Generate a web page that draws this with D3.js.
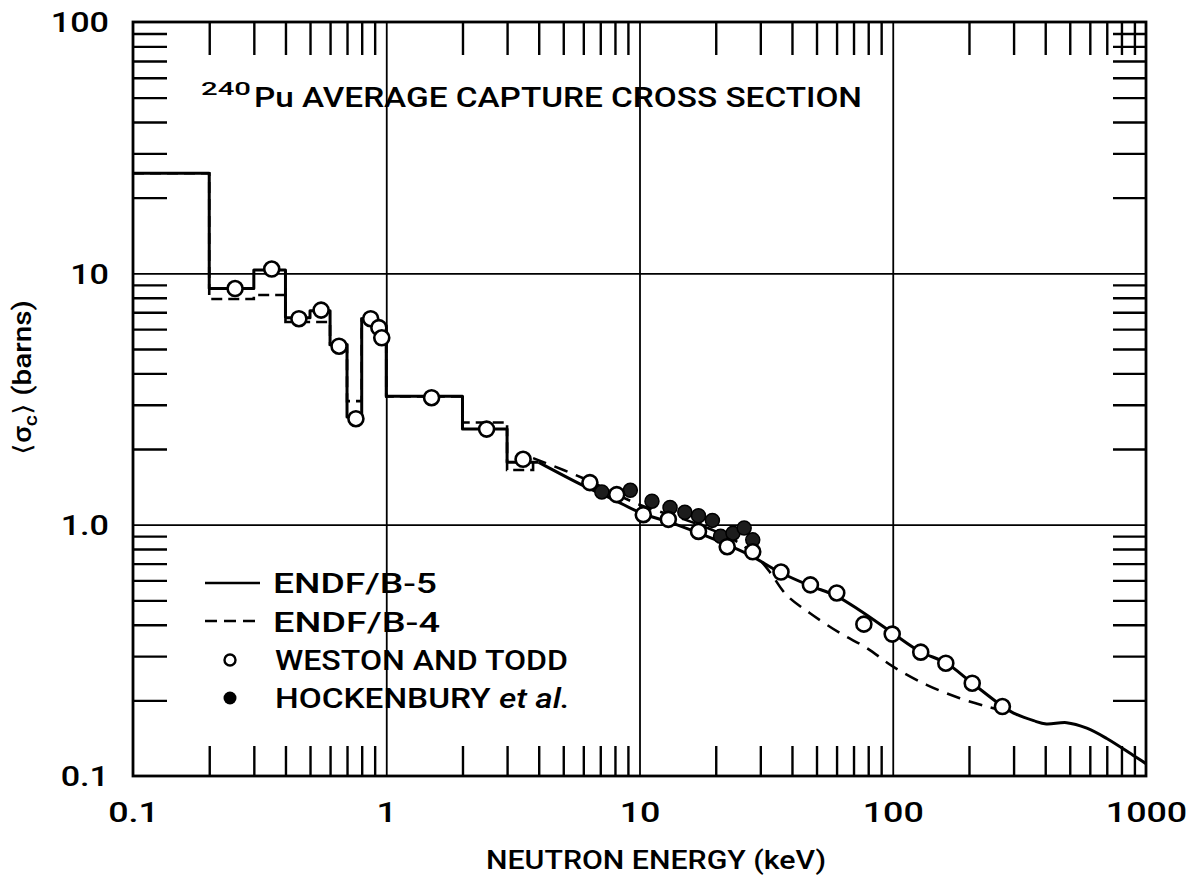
<!DOCTYPE html>
<html>
<head>
<meta charset="utf-8">
<script src="https://cdn.jsdelivr.net/npm/d3@7"></script>
<style>
  body { margin: 0; background: #fff; }
  svg { display: block; }
  text { font-family: Roboto, "Liberation Sans", Arial, sans-serif; font-weight: 500; fill: #000; }
</style>
</head>
<body>
<svg id="chart" width="1199" height="881"></svg>
<script>
// ENDF/B-5 evaluation: resolved-region group averages (bin edges in keV, sigma in barns)
const b5StepEdges  = [0.1, 0.2, 0.3, 0.4, 0.5, 0.6, 0.7, 0.8, 0.9, 1.0, 2.0, 3.0, 4.0];
const b5StepValues = [25, 8.7, 10.3, 6.65, 7.1, 5.2, 2.68, 6.6, 6.2, 3.24, 2.4, 1.77];
// ENDF/B-5 smooth unresolved-region curve
const b5CurveEnergy = [4, 6, 8, 10, 14, 20, 27, 36, 47, 60, 75, 100, 128, 163, 204, 270, 300, 360, 404, 486, 584, 700, 888, 1000];
const b5CurveSigma  = [1.77, 1.43, 1.25, 1.12, 1.0, 0.87, 0.76, 0.645, 0.572, 0.52, 0.452, 0.37, 0.313, 0.281, 0.236, 0.19, 0.178, 0.166, 0.161, 0.163, 0.155, 0.141, 0.121, 0.112];

// ENDF/B-4 evaluation
const b4StepEdges  = [0.1, 0.2, 0.3, 0.4, 0.6, 0.7, 0.8, 0.9, 1.0, 2.0, 3.0, 3.8];
const b4StepValues = [25, 7.9, 8.2, 6.4, 5.2, 3.1, 6.6, 5.9, 3.24, 2.55, 1.65];
const b4CurveEnergy = [3.8, 6, 10, 15, 20, 25, 30, 33, 38, 47, 62, 79, 100, 136, 184, 235, 282];
const b4CurveSigma  = [1.84, 1.53, 1.2, 1.05, 0.94, 0.84, 0.72, 0.64, 0.526, 0.445, 0.37, 0.323, 0.273, 0.2305, 0.204, 0.189, 0.18];

// Weston and Todd measurements (open circles)
const westonEnergy = [0.253, 0.353, 0.452, 0.553, 0.651, 0.759, 0.868, 0.935, 0.96, 1.51, 2.49, 3.47, 6.37, 8.13, 10.35, 13.0, 17.1, 22.2, 28.0, 36.2, 47.3, 60.1, 76.9, 99.5, 129, 162, 206, 271];
const westonSigma  = [8.7, 10.4, 6.6, 7.14, 5.13, 2.64, 6.6, 6.08, 5.54, 3.2, 2.4, 1.82, 1.47, 1.317, 1.096, 1.05, 0.94, 0.817, 0.78, 0.648, 0.576, 0.535, 0.402, 0.367, 0.311, 0.281, 0.234, 0.189];

// Hockenbury et al. measurements (filled circles)
const hockEnergy = [7.1, 9.2, 11.2, 13.2, 15.1, 17.1, 19.4, 20.9, 23.4, 25.9, 28.0];
const hockSigma  = [1.35, 1.37, 1.24, 1.17, 1.12, 1.085, 1.04, 0.9, 0.925, 0.97, 0.87];

// Axis ticks
const xTickValues = [0.1, 1, 10, 100, 1000];
const xTickLabels = ["0.1", "1", "10", "100", "1000"];
const yTickValues = [0.1, 1, 10, 100];
const yTickLabels = ["0.1", "1.0", "10", "100"];

const svg = d3.select("#chart");
const L = 133, R = 1146, T = 22, B = 776;

const x = d3.scaleLog().domain([0.1, 1000]).range([L, R]);
const y = d3.scaleLog().domain([0.1, 100]).range([B, T]);

// minor tick values (2..9 within each decade)
const minorX = [];
for (let d = -1; d < 3; d++) for (let m = 2; m <= 9; m++) minorX.push(m * Math.pow(10, d));
const minorY = [];
for (let d = -1; d < 2; d++) for (let m = 2; m <= 9; m++) minorY.push(m * Math.pow(10, d));

function styleTicks(g, w) {
  g.select(".domain").remove();
  g.selectAll(".tick line").attr("stroke", "#000").attr("stroke-width", w);
  g.selectAll(".tick text").remove();
}

// decade grid lines
svg.append("g").attr("transform", `translate(0,${B})`)
  .call(d3.axisTop(x).tickValues([1, 10, 100]).tickSize(B - T).tickFormat(""))
  .call(g => styleTicks(g, 1.8));
svg.append("g").attr("transform", `translate(${L},0)`)
  .call(d3.axisRight(y).tickValues([1, 10]).tickSize(R - L).tickFormat(""))
  .call(g => styleTicks(g, 1.8));

// inward minor ticks on all four sides
svg.append("g").attr("transform", `translate(0,${B})`)
  .call(d3.axisTop(x).tickValues(minorX).tickSize(30).tickFormat(""))
  .call(g => styleTicks(g, 2.4));
svg.append("g").attr("transform", `translate(0,${T})`)
  .call(d3.axisBottom(x).tickValues(minorX).tickSize(33).tickFormat(""))
  .call(g => styleTicks(g, 2.4));
svg.append("g").attr("transform", `translate(${L},0)`)
  .call(d3.axisRight(y).tickValues(minorY).tickSize(34).tickFormat(""))
  .call(g => styleTicks(g, 2.4));
svg.append("g").attr("transform", `translate(${R},0)`)
  .call(d3.axisLeft(y).tickValues(minorY).tickSize(33).tickFormat(""))
  .call(g => styleTicks(g, 2.4));

// frame
svg.append("rect").attr("x", L).attr("y", T).attr("width", R - L).attr("height", B - T)
  .attr("fill", "none").attr("stroke", "#000").attr("stroke-width", 2.8);

// tick labels (lettering is drawn slightly widened)
const xLab = svg.append("g").attr("transform", `translate(0,${B})`)
  .call(d3.axisBottom(x).tickValues(xTickValues).tickSize(0).tickPadding(0)
    .tickFormat((d, i) => xTickLabels[i]));
xLab.select(".domain").remove();
xLab.selectAll(".tick text").attr("dy", null).attr("y", 0)
  .attr("transform", "translate(0,46) scale(1.28,1)")
  .style("font-size", "28px").attr("fill", "#000");

const yLab = svg.append("g").attr("transform", `translate(${L},0)`)
  .call(d3.axisLeft(y).tickValues(yTickValues).tickSize(0).tickPadding(0)
    .tickFormat((d, i) => yTickLabels[i]));
yLab.select(".domain").remove();
yLab.selectAll(".tick text").attr("x", 0).attr("dy", "0.35em")
  .attr("transform", "translate(-24,0) scale(1.22,1)")
  .style("font-size", "28px").attr("fill", "#000");

// helpers for the step histograms
function stepPoints(edges, values) {
  const pts = [];
  values.forEach((v, i) => { pts.push([edges[i], v]); pts.push([edges[i + 1], v]); });
  return pts;
}
const lineLin = d3.line().x(d => x(d[0])).y(d => y(d[1]));
const lineSmooth = d3.line().x(d => x(d[0])).y(d => y(d[1])).curve(d3.curveCatmullRom.alpha(0.5));

const plot = svg.append("g");

// ENDF/B-4 (dashed)
const b4Steps = stepPoints(b4StepEdges, b4StepValues);
b4Steps.push([b4CurveEnergy[0], b4CurveSigma[0]]);
plot.append("path").attr("d", lineLin(b4Steps))
  .attr("fill", "none").attr("stroke", "#000").attr("stroke-width", 2.6)
  .attr("stroke-dasharray", "11,6");
plot.append("path").attr("d", lineSmooth(b4CurveEnergy.map((e, i) => [e, b4CurveSigma[i]])))
  .attr("fill", "none").attr("stroke", "#000").attr("stroke-width", 2.6)
  .attr("stroke-dasharray", "14,9");

// ENDF/B-5 (solid)
const b5Steps = stepPoints(b5StepEdges, b5StepValues);
plot.append("path").attr("d", lineLin(b5Steps))
  .attr("fill", "none").attr("stroke", "#000").attr("stroke-width", 3)
  .attr("stroke-linejoin", "round");
plot.append("path").attr("d", lineSmooth(b5CurveEnergy.map((e, i) => [e, b5CurveSigma[i]])))
  .attr("fill", "none").attr("stroke", "#000").attr("stroke-width", 3)
  .attr("stroke-linejoin", "round");

// Hockenbury et al. (filled)
plot.selectAll("circle.hock").data(hockEnergy).join("circle")
  .attr("class", "hock")
  .attr("cx", d => x(d)).attr("cy", (d, i) => y(hockSigma[i])).attr("r", 7)
  .attr("fill", "#1c1c1c").attr("stroke", "#000").attr("stroke-width", 1.5);

// Weston and Todd (open)
plot.selectAll("circle.weston").data(westonEnergy).join("circle")
  .attr("class", "weston")
  .attr("cx", d => x(d)).attr("cy", (d, i) => y(westonSigma[i])).attr("r", 7.5)
  .attr("fill", "#fff").attr("stroke", "#000").attr("stroke-width", 2.6);

// title
svg.append("text").attr("x", 201).attr("y", 95).style("font-size", "19px")
  .attr("textLength", 50).attr("lengthAdjust", "spacingAndGlyphs").text("240");
svg.append("text").attr("x", 254).attr("y", 107).style("font-size", "28px")
  .attr("textLength", 608).attr("lengthAdjust", "spacingAndGlyphs")
  .text("Pu AVERAGE CAPTURE CROSS SECTION");

// axis titles
svg.append("text").attr("x", 486).attr("y", 869)
  .style("font-size", "25px")
  .attr("textLength", 340).attr("lengthAdjust", "spacingAndGlyphs")
  .text("NEUTRON ENERGY (keV)");

const yTitle = svg.append("text")
  .attr("transform", "translate(31,455) rotate(-90)")
  .style("font-size", "25px")
  .attr("textLength", 155).attr("lengthAdjust", "spacingAndGlyphs");
yTitle.append("tspan").text("\u27E8\u03C3");
yTitle.append("tspan").attr("dy", 6).style("font-size", "18px").text("c");
yTitle.append("tspan").attr("dy", -6).text("\u27E9 (barns)");

// legend
const lg = svg.append("g");
lg.append("line").attr("x1", 205).attr("x2", 260).attr("y1", 583).attr("y2", 583)
  .attr("stroke", "#000").attr("stroke-width", 2.6);
lg.append("line").attr("x1", 205).attr("x2", 260).attr("y1", 621).attr("y2", 621)
  .attr("stroke", "#000").attr("stroke-width", 2.4).attr("stroke-dasharray", "12,7");
lg.append("circle").attr("cx", 230).attr("cy", 660).attr("r", 5.5)
  .attr("fill", "#fff").attr("stroke", "#000").attr("stroke-width", 2.4);
lg.append("circle").attr("cx", 230).attr("cy", 698).attr("r", 6.5).attr("fill", "#000");

const legendText = (xp, yp, w) => lg.append("text").attr("x", xp).attr("y", yp)
  .style("font-size", "28px")
  .attr("textLength", w).attr("lengthAdjust", "spacingAndGlyphs");
legendText(273, 593, 164).text("ENDF/B-5");
legendText(273, 632, 167).text("ENDF/B-4");
legendText(275, 670, 293).text("WESTON AND TODD");
const hk = legendText(275, 708, 295);
hk.append("tspan").text("HOCKENBURY ");
hk.append("tspan").style("font-style", "italic").text("et al.");
</script>
</body>
</html>
